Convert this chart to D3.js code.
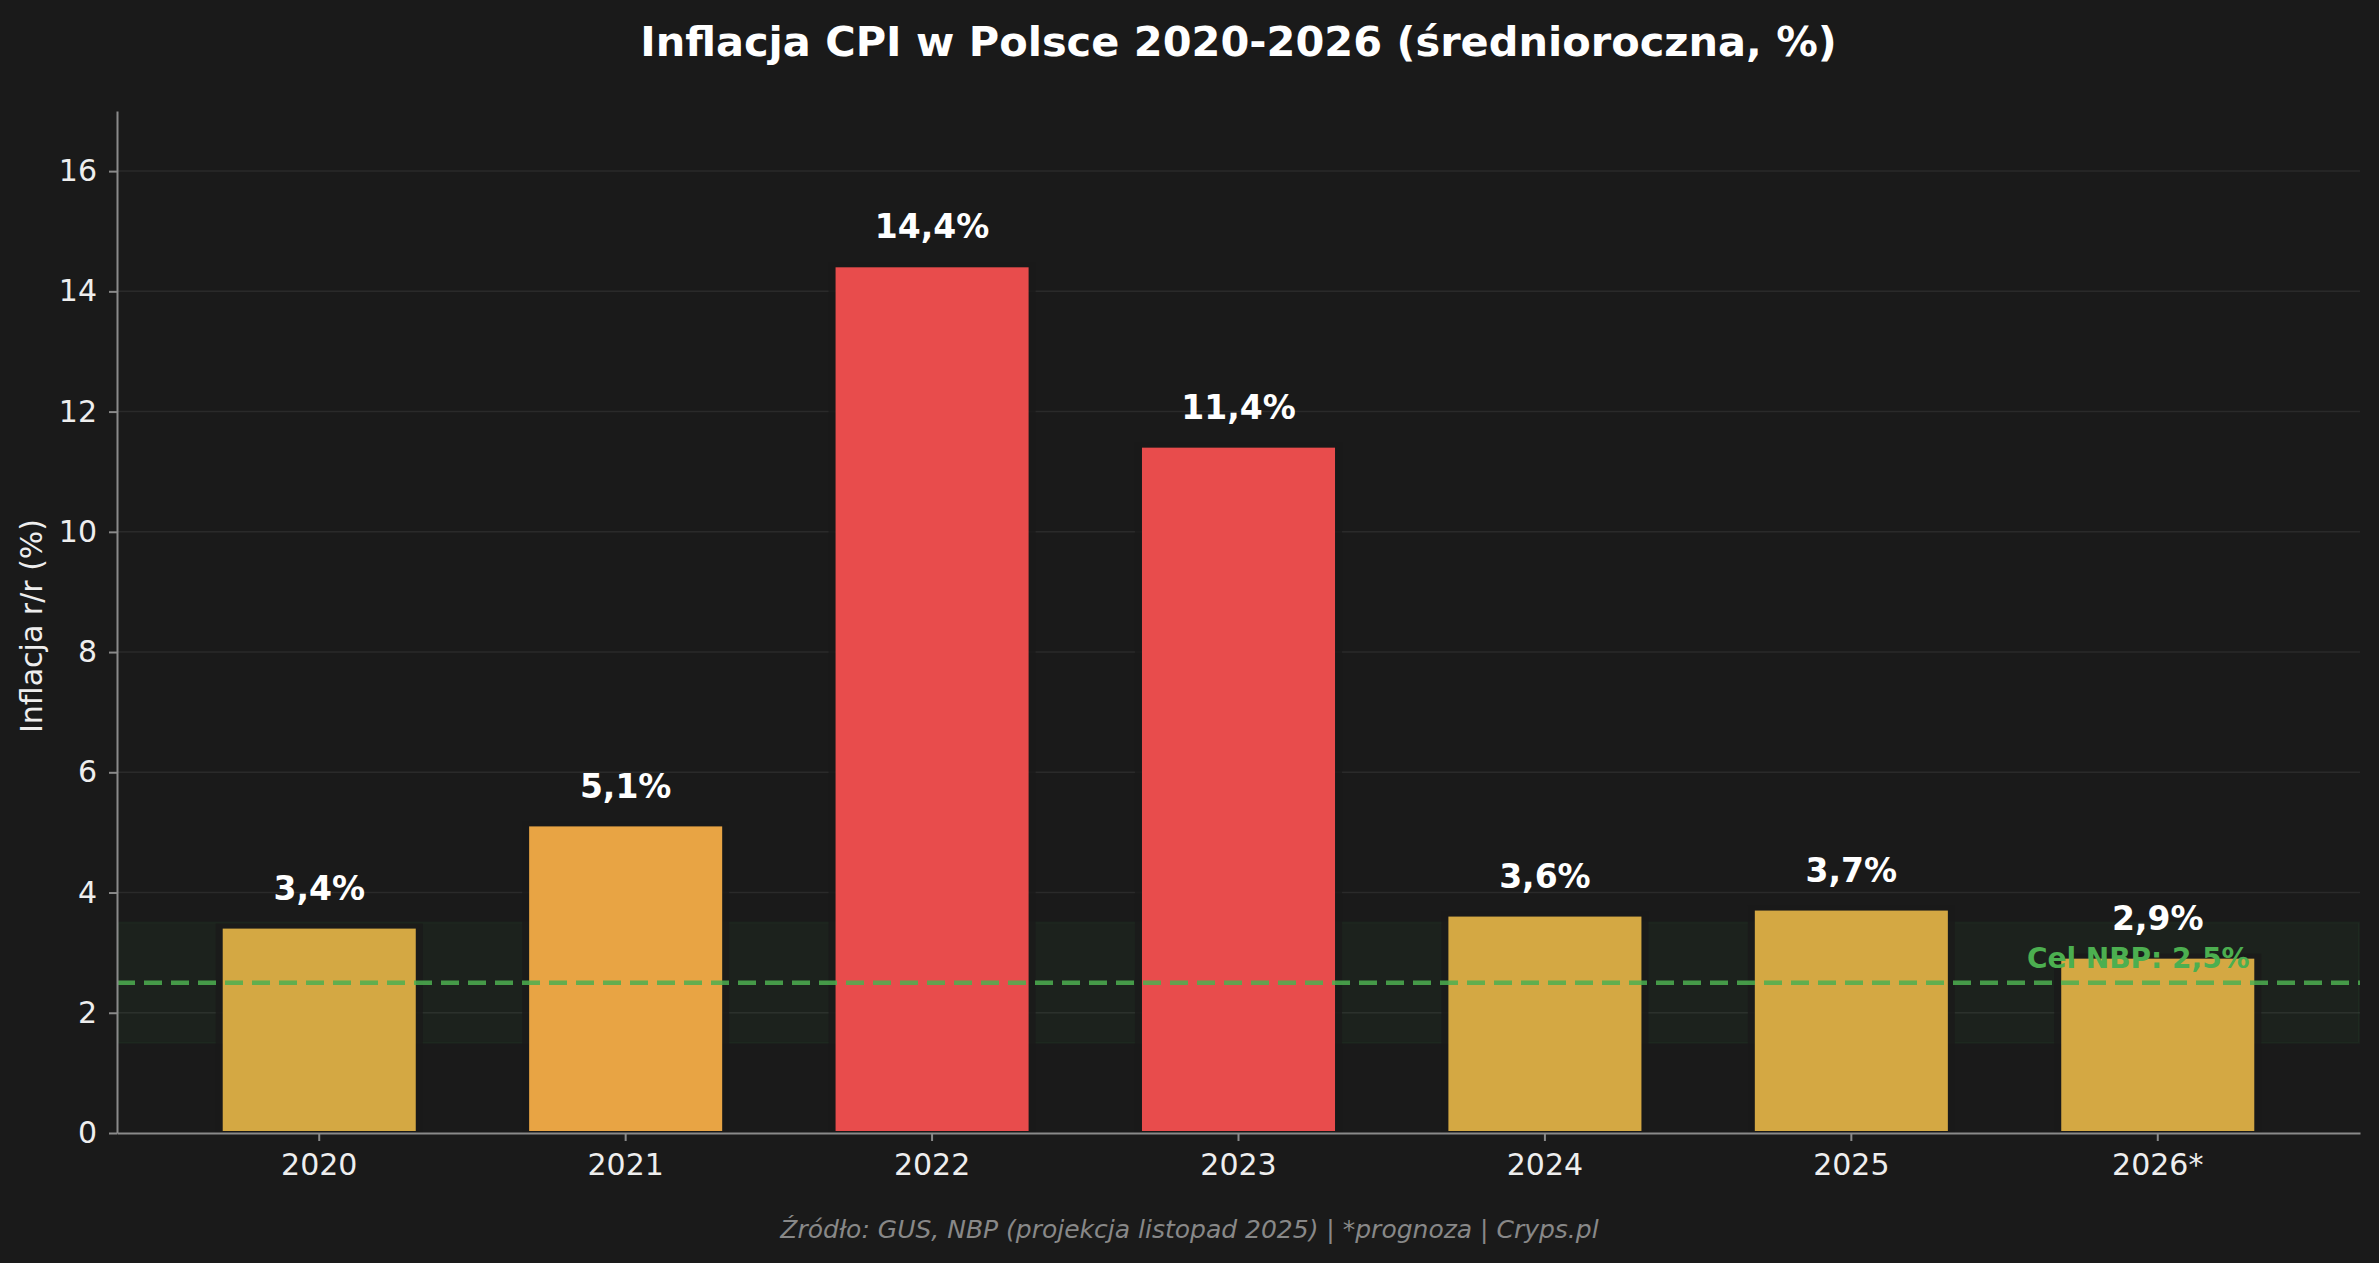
<!DOCTYPE html>
<html>
<head>
<meta charset="utf-8">
<script src="https://cdn.jsdelivr.net/npm/d3@7"></script>
<style>
  html, body { margin: 0; padding: 0; background: #1a1a1a; }
  svg { display: block; font-family: "DejaVu Sans", sans-serif; }
</style>
</head>
<body>
<div id="chart"></div>
<script>
// data
const years = ['2020', '2021', '2022', '2023', '2024', '2025', '2026*'];
const cpi = [3.4, 5.1, 14.4, 11.4, 3.6, 3.7, 2.9];
const yTicks = [0, 2, 4, 6, 8, 10, 12, 14, 16];
const nbpTarget = 2.5;
const targetBand = [1.5, 3.5];

const titleText = 'Inflacja CPI w Polsce 2020-2026 (średnioroczna, %)';
const yLabelText = 'Inflacja r/r (%)';
const sourceText = 'Źródło: GUS, NBP (projekcja listopad 2025) | *prognoza | Cryps.pl';
const targetLabel = 'Cel NBP: 2,5%';

const width = 2379, height = 1263;
const margin = {top: 111, right: 19, bottom: 130, left: 117};

const bg = '#1a1a1a',
      green = '#4caf50',
      axisGrey = '#8a8a8a';

// colour by level of inflation
const barColor = v => v > 10 ? '#e84c4c' : (v > 5 ? '#e8a444' : '#d4a843');

const plPct = d3.formatLocale({decimal: ',', thousands: ' ', grouping: [3], currency: ['', ' zł']}).format('.1f');

const svg = d3.select('#chart').append('svg')
  .attr('width', width)
  .attr('height', height);

svg.append('rect').attr('width', width).attr('height', height).attr('fill', bg);

const x = d3.scaleBand()
  .domain(years)
  .range([margin.left, width - margin.right])
  .paddingInner(0.37)
  .paddingOuter(0.345);

const y = d3.scaleLinear()
  .domain([0, 17])
  .range([height - margin.bottom, margin.top]);

const data = years.map((yr, i) => ({year: yr, value: cpi[i]}));

// grid
svg.append('g')
  .selectAll('line')
  .data(yTicks.filter(d => d > 0))
  .join('line')
  .attr('x1', margin.left).attr('x2', width - margin.right)
  .attr('y1', d => y(d)).attr('y2', d => y(d))
  .attr('stroke', '#ffffff')
  .attr('stroke-opacity', 0.07)
  .attr('stroke-width', 1.5);

// NBP tolerance band
svg.append('rect')
  .attr('x', margin.left + 1)
  .attr('width', width - margin.right - margin.left - 2)
  .attr('y', y(targetBand[1]))
  .attr('height', y(targetBand[0]) - y(targetBand[1]))
  .attr('fill', green)
  .attr('fill-opacity', 0.06)
  .attr('stroke', green)
  .attr('stroke-opacity', 0.06)
  .attr('stroke-width', 2);

// dark halo around bars
svg.append('g')
  .selectAll('rect')
  .data(data)
  .join('rect')
  .attr('x', d => x(d.year) - 7)
  .attr('width', x.bandwidth() + 14)
  .attr('y', d => y(d.value) - 5)
  .attr('height', d => y(0) - y(d.value) + 5)
  .attr('fill', bg)
  .attr('fill-opacity', 0.85);

// bars
svg.append('g')
  .selectAll('rect')
  .data(data)
  .join('rect')
  .attr('x', d => x(d.year))
  .attr('width', x.bandwidth())
  .attr('y', d => y(d.value))
  .attr('height', d => y(0) - y(d.value) - 2)
  .attr('fill', d => barColor(d.value));

// target line
svg.append('line')
  .attr('x1', margin.left).attr('x2', width - margin.right)
  .attr('y1', y(nbpTarget)).attr('y2', y(nbpTarget))
  .attr('stroke', green)
  .attr('stroke-opacity', 0.85)
  .attr('stroke-width', 4.5)
  .attr('stroke-dasharray', '18,9');

svg.append('text')
  .attr('x', x(years[years.length - 1]) + x.bandwidth() / 2 + 0.3 * x.step())
  .attr('y', y(nbpTarget + 0.25))
  .attr('text-anchor', 'end')
  .attr('fill', green)
  .attr('font-size', 28)
  .attr('font-weight', 'bold')
  .text(targetLabel);

// value labels
svg.append('g')
  .selectAll('text')
  .data(data)
  .join('text')
  .attr('x', d => x(d.year) + x.bandwidth() / 2)
  .attr('y', d => y(d.value + 0.48))
  .attr('text-anchor', 'middle')
  .attr('fill', '#ffffff')
  .attr('font-size', 33)
  .attr('font-weight', 'bold')
  .text(d => plPct(d.value) + '%');

// axes
const xAxis = svg.append('g')
  .attr('transform', `translate(0,${y(0)})`)
  .call(d3.axisBottom(x).tickSize(8).tickPadding(13).tickSizeOuter(0));

const yAxis = svg.append('g')
  .attr('transform', `translate(${margin.left},0)`)
  .call(d3.axisLeft(y).tickValues(yTicks).tickSize(8).tickPadding(12).tickSizeOuter(0));

[xAxis, yAxis].forEach(ax => {
  ax.select('.domain').attr('stroke', axisGrey).attr('stroke-width', 2);
  ax.selectAll('.tick line').attr('stroke', axisGrey).attr('stroke-width', 2);
  ax.selectAll('.tick text')
    .attr('fill', '#eeeeee')
    .attr('font-size', 30)
    .attr('font-family', '"DejaVu Sans", sans-serif');
});

// y label
svg.append('text')
  .attr('transform', `translate(42,${(y(0) + y(17)) / 2 + 4}) rotate(-90)`)
  .attr('text-anchor', 'middle')
  .attr('fill', '#eeeeee')
  .attr('font-size', 30)
  .text(yLabelText);

// title, centred over the axes
svg.append('text')
  .attr('x', (margin.left + width - margin.right) / 2)
  .attr('y', 56)
  .attr('text-anchor', 'middle')
  .attr('fill', '#ffffff')
  .attr('font-size', 41.5)
  .attr('font-weight', 'bold')
  .text(titleText);

// source
svg.append('text')
  .attr('x', width / 2)
  .attr('y', 1238)
  .attr('text-anchor', 'middle')
  .attr('fill', '#888888')
  .attr('font-size', 25)
  .attr('font-style', 'italic')
  .text(sourceText);
</script>
</body>
</html>
